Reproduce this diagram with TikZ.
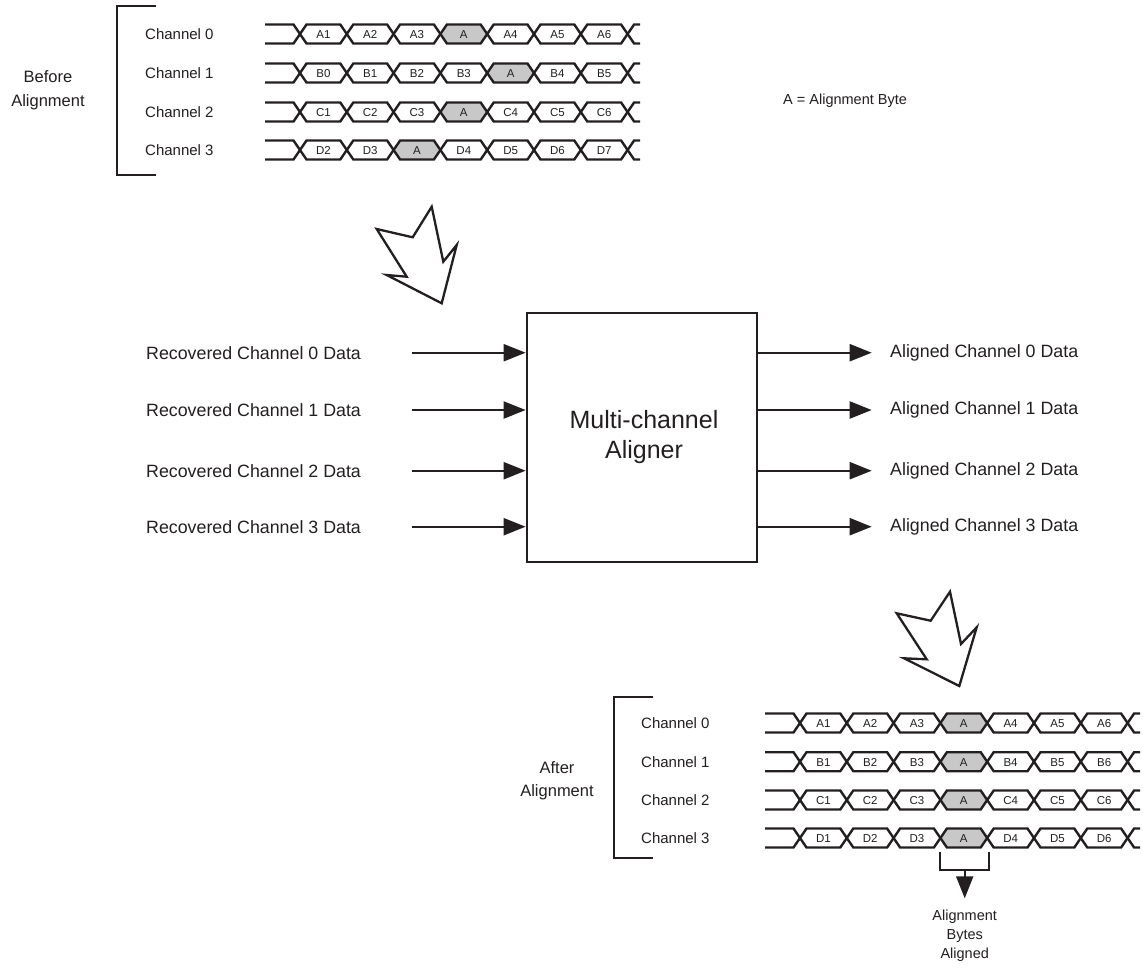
\documentclass[tikz,border=0pt]{standalone}
\usepackage{fontspec}
\setmainfont{Liberation Sans}
\usetikzlibrary{arrows.meta}
\definecolor{ink}{HTML}{231F20}
\definecolor{cellgray}{HTML}{C8C8C8}
\tikzset{
  bus/.style={draw=ink,line width=2.4pt,line join=miter},
  cell/.style={inner sep=0pt,text=ink,font=\fontsize{11.5}{13}\selectfont},
  lbl/.style={inner sep=0pt,text=ink,anchor=west,font=\fontsize{15}{18}\selectfont},
  iolbl/.style={inner sep=0pt,text=ink,anchor=west,font=\fontsize{17.8}{21}\selectfont},
  side/.style={inner sep=0pt,text=ink,align=center,font=\fontsize{16.5}{23.5}\selectfont},
  brk/.style={draw=ink,line width=2.3pt},
  arr/.style={draw=ink,line width=2.1pt,-{Triangle[length=22pt,width=17pt]}},
  hollow/.style={draw=ink,line width=2.3pt,line join=miter,fill=white},
}
\newcommand\busrow[5]{%
  \begin{scope}[shift={(#1,#2)}]
    \draw[bus] (0,-9.5) -- (28.5,-9.5) -- (35,0) -- (28.5,9.5) -- (0,9.5);
    \foreach \lab [count=\k from 0] in {#4} {
      \pgfmathsetmacro\xa{35+46.8*\k}
      \pgfmathsetmacro\xb{\xa+46.8}
      \ifnum\k=#3 \def\cellfill{cellgray}\else\def\cellfill{white}\fi
      \draw[bus,fill=\cellfill] (\xa,0) -- (\xa+6.5,-9.5) -- (\xb-6.5,-9.5) -- (\xb,0) -- (\xb-6.5,9.5) -- (\xa+6.5,9.5) -- cycle;
      \node[cell] (#5\k) at ({(\xa+\xb)/2},0.5) {\lab};
    }
    \draw[bus] (362.6,0) -- (369.1,-9.5) -- (375,-9.5);
    \draw[bus] (362.6,0) -- (369.1,9.5) -- (375,9.5);
  \end{scope}%
}
\begin{document}
\begin{tikzpicture}[x=1pt,y=-1pt]
\useasboundingbox[fill=white] (0,0) rectangle (1143,970);

% ---------- Before alignment ----------
\draw[brk] (156,6) -- (117,6) -- (117,175) -- (156,175);
\node[side] (before) at (48,90) {Before\\Alignment};
\node[lbl] (tl0) at (145,34) {Channel 0};
\node[lbl] (tl1) at (145,73) {Channel 1};
\node[lbl] (tl2) at (145,112) {Channel 2};
\node[lbl] (tl3) at (145,150) {Channel 3};
\busrow{265}{34}{3}{A1,A2,A3,A,A4,A5,A6}{ta}
\busrow{265}{73}{4}{B0,B1,B2,B3,A,B4,B5}{tb}
\busrow{265}{112}{3}{C1,C2,C3,A,C4,C5,C6}{tc}
\busrow{265}{150}{2}{D2,D3,A,D4,D5,D6,D7}{td}
\node[inner sep=0pt,text=ink,anchor=west,font=\fontsize{14.5}{17}\selectfont] (legend) at (783,101) {A = Alignment Byte};

% ---------- hollow arrows ----------
\draw[hollow] (376.7,229) -- (412.7,237.3) -- (431.7,206.7) -- (443.3,261.7) -- (456.7,245) -- (441.7,303.3) -- (386.7,275) -- (406.7,276.7) -- cycle;
\draw[hollow] (896.7,613.3) -- (930.7,620.7) -- (950,591.7) -- (961,644) -- (976.7,627.3) -- (959.3,686) -- (904,658.3) -- (926.7,659.3) -- cycle;

% ---------- aligner ----------
\node[draw=ink,line width=2.1pt,minimum width=230pt,minimum height=248.4pt,inner sep=0pt] (box) at (641.7,437.5) {};
\node[inner sep=0pt,text=ink,align=center,font=\fontsize{25}{30}\selectfont] (boxtxt) at (644,437) {Multi-channel\\Aligner};

\foreach \i/\y in {0/352.7,1/410,2/470.7,3/526.7} {
  \coordinate (in\i) at (411.7,\y);
  \coordinate (out\i) at (871.7,\y);
  \draw[arr] (in\i) -- (in\i -| box.west);
  \draw[arr] (out\i -| box.east) -- (out\i);
  \node[iolbl] (rl\i) at (146,\y) {Recovered Channel \i\ Data};
  \node[iolbl] (al\i) at (890,\y) {Aligned Channel \i\ Data};
}

% ---------- After alignment ----------
\draw[brk] (653,697) -- (614,697) -- (614,858) -- (653,858);
\node[side] (after) at (557,780.5) {After\\Alignment};
\node[lbl] (bl0) at (641,723) {Channel 0};
\node[lbl] (bl1) at (641,761.7) {Channel 1};
\node[lbl] (bl2) at (641,800) {Channel 2};
\node[lbl] (bl3) at (641,838) {Channel 3};
\busrow{765}{723}{3}{A1,A2,A3,A,A4,A5,A6}{ba}
\busrow{765}{761.7}{3}{B1,B2,B3,A,B4,B5,B6}{bb}
\busrow{765}{800}{3}{C1,C2,C3,A,C4,C5,C6}{bc}
\busrow{765}{838}{3}{D1,D2,D3,A,D4,D5,D6}{bd}

% ---------- alignment bracket ----------
\coordinate (ab1) at (940,851.7);
\coordinate (ab2) at (989.3,851.7);
\coordinate (abm) at (964.7,870);
\coordinate (abt) at (964.7,898.3);
\draw[brk] (ab1) -- (ab1 |- abm) -- (ab2 |- abm) -- (ab2);
\draw[arr] (abm) -- (abt);
\node[inner sep=0pt,text=ink,align=center,font=\fontsize{14.5}{19.2}\selectfont] (abtxt) at (964.7,936) {Alignment\\Bytes\\Aligned};
\end{tikzpicture}
\end{document}
